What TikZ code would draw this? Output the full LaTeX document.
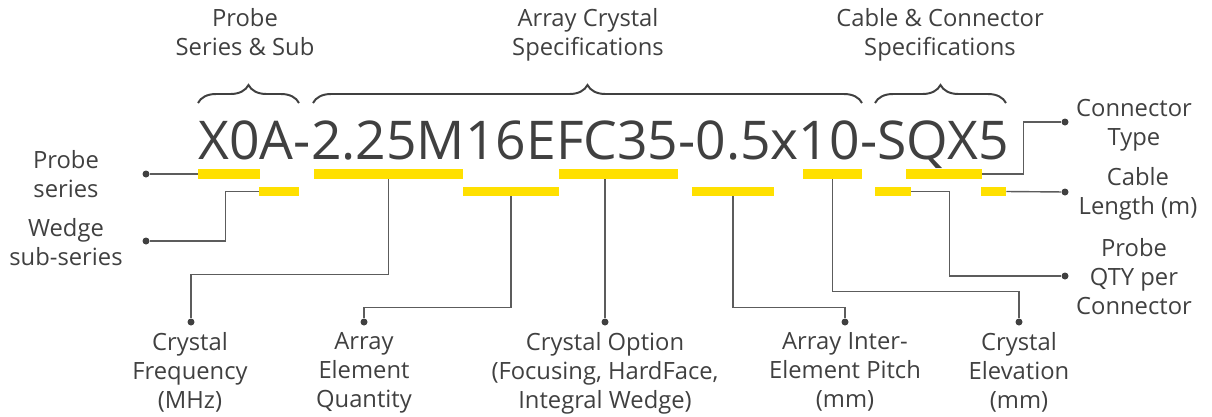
\documentclass[tikz,border=0pt]{standalone}
\usepackage{fontspec}
\setmainfont{Open Sans}
\usetikzlibrary{positioning, fit, calc, decorations.pathreplacing}
\definecolor{inkc}{RGB}{64,64,64}
\definecolor{leadc}{RGB}{92,92,92}
\definecolor{barc}{RGB}{255,224,0}
\tikzset{
  lbl/.style={font=\fontsize{16.9}{20.6}\selectfont, text=inkc, align=center,
              inner sep=0pt, anchor=north, execute at begin node=\strut},
  code/.style={font=\fontsize{38}{40}\selectfont, text=inkc, inner sep=0pt},
  bar/.style={rectangle, fill=barc, draw=none, inner sep=0pt},
  dot/.style={circle, fill=inkc, inner sep=0pt, minimum size=1.75mm},
  lead/.style={draw=leadc, line width=1pt},
  brc/.style={draw=inkc, line width=1.4pt, decorate,
              decoration={brace, amplitude=4.5mm}},
}

\begin{document}
\begin{tikzpicture}[x=0.025cm, y=-0.025cm]
  \useasboundingbox (0,0) rectangle (1212,416);

  % the part number
  \node[code, anchor=base] (code) at (603.5,159) {X0A-2.25M16EFC35-0.5x10-SQX5};

  % the three groups
  \draw[brc] (198,103) -- (299,103);
  \draw[brc] (313,103) -- (862,103);
  \draw[brc] (875,103) -- (1006,103);
  \node[lbl] (grpprobe) at (245,8) {Probe\\Series \& Sub};
  \node[lbl] (grparray) at (588,8) {Array Crystal\\Specifications};
  \node[lbl] (grpcable) at (940,8) {Cable \& Connector\\Specifications};

  % markers under the characters, upper row
  \node[bar, fit={(198,169)(260,179)}] (series) {};
  \node[bar, fit={(314,169)(463,179)}] (freq) {};
  \node[bar, fit={(559,169)(678,179)}] (option) {};
  \node[bar, fit={(803,169)(862,179)}] (elev) {};
  \node[bar, fit={(906,169)(982,179)}] (conn) {};
  % lower row
  \node[bar, fit={(259,187)(299,196)}] (subseries) {};
  \node[bar, fit={(463,187)(559,196)}] (elements) {};
  \node[bar, fit={(692,187)(774,196)}] (pitch) {};
  \node[bar, fit={(875,187)(911,196)}] (qty) {};
  \node[bar, fit={(981,187)(1006,196)}] (cable) {};

  % end points
  \node[dot] (dseries) at (146,174) {};
  \node[dot] (dsub) at (146,241) {};
  \node[dot] (dfreq) at (191,322) {};
  \node[dot] (delem) at (364,322) {};
  \node[dot] (doption) at (605,322) {};
  \node[dot] (dpitch) at (845,322) {};
  \node[dot] (delev) at (1019,322) {};
  \node[dot] (dconn) at (1065,122) {};
  \node[dot] (dcable) at (1065,192) {};
  \node[dot] (dqty) at (1065,276) {};

  % what each part means
  \node[lbl] (lseries) at (66,150) {Probe\\series};
  \node[lbl] (lsub) at (66,218) {Wedge\\sub-series};
  \node[lbl] (lfreq) at (190,332) {Crystal\\Frequency\\(MHz)};
  \node[lbl] (lelem) at (364,332) {Array\\Element\\Quantity};
  \node[lbl] (loption) at (605,332) {Crystal Option\\(Focusing, HardFace,\\Integral Wedge)};
  \node[lbl] (lpitch) at (845,332) {Array Inter-\\Element Pitch\\(mm)};
  \node[lbl] (lelev) at (1019,332) {Crystal\\Elevation\\(mm)};
  \node[lbl] (lconn) at (1134,99) {Connector\\Type};
  \node[lbl] (lcable) at (1138,167) {Cable\\Length (m)};
  \node[lbl] (lqty) at (1134,238) {Probe\\QTY per\\Connector};

  \draw[lead] (dseries) -- (series.west);
  \draw[lead] (subseries.west) -- ++(-33,0) |- (dsub);
  \draw[lead] (freq.south) -- ++(0,95) -| (dfreq);
  \draw[lead] (elements.south) -- ++(0,111) -| (delem);
  \draw[lead] (option.south -| doption) -- (doption);
  \draw[lead] (pitch.south) -- ++(0,111) -| (dpitch);
  \draw[lead] (elev.south) -- ++(0,112) -| (delev);
  \draw[lead] (qty.east) -- ++(38,0) |- (dqty);
  \draw[lead] (conn.east) -- ++(41,0) |- (dconn);
  \draw[lead] (cable.east) -- (dcable);

\end{tikzpicture}
\end{document}
